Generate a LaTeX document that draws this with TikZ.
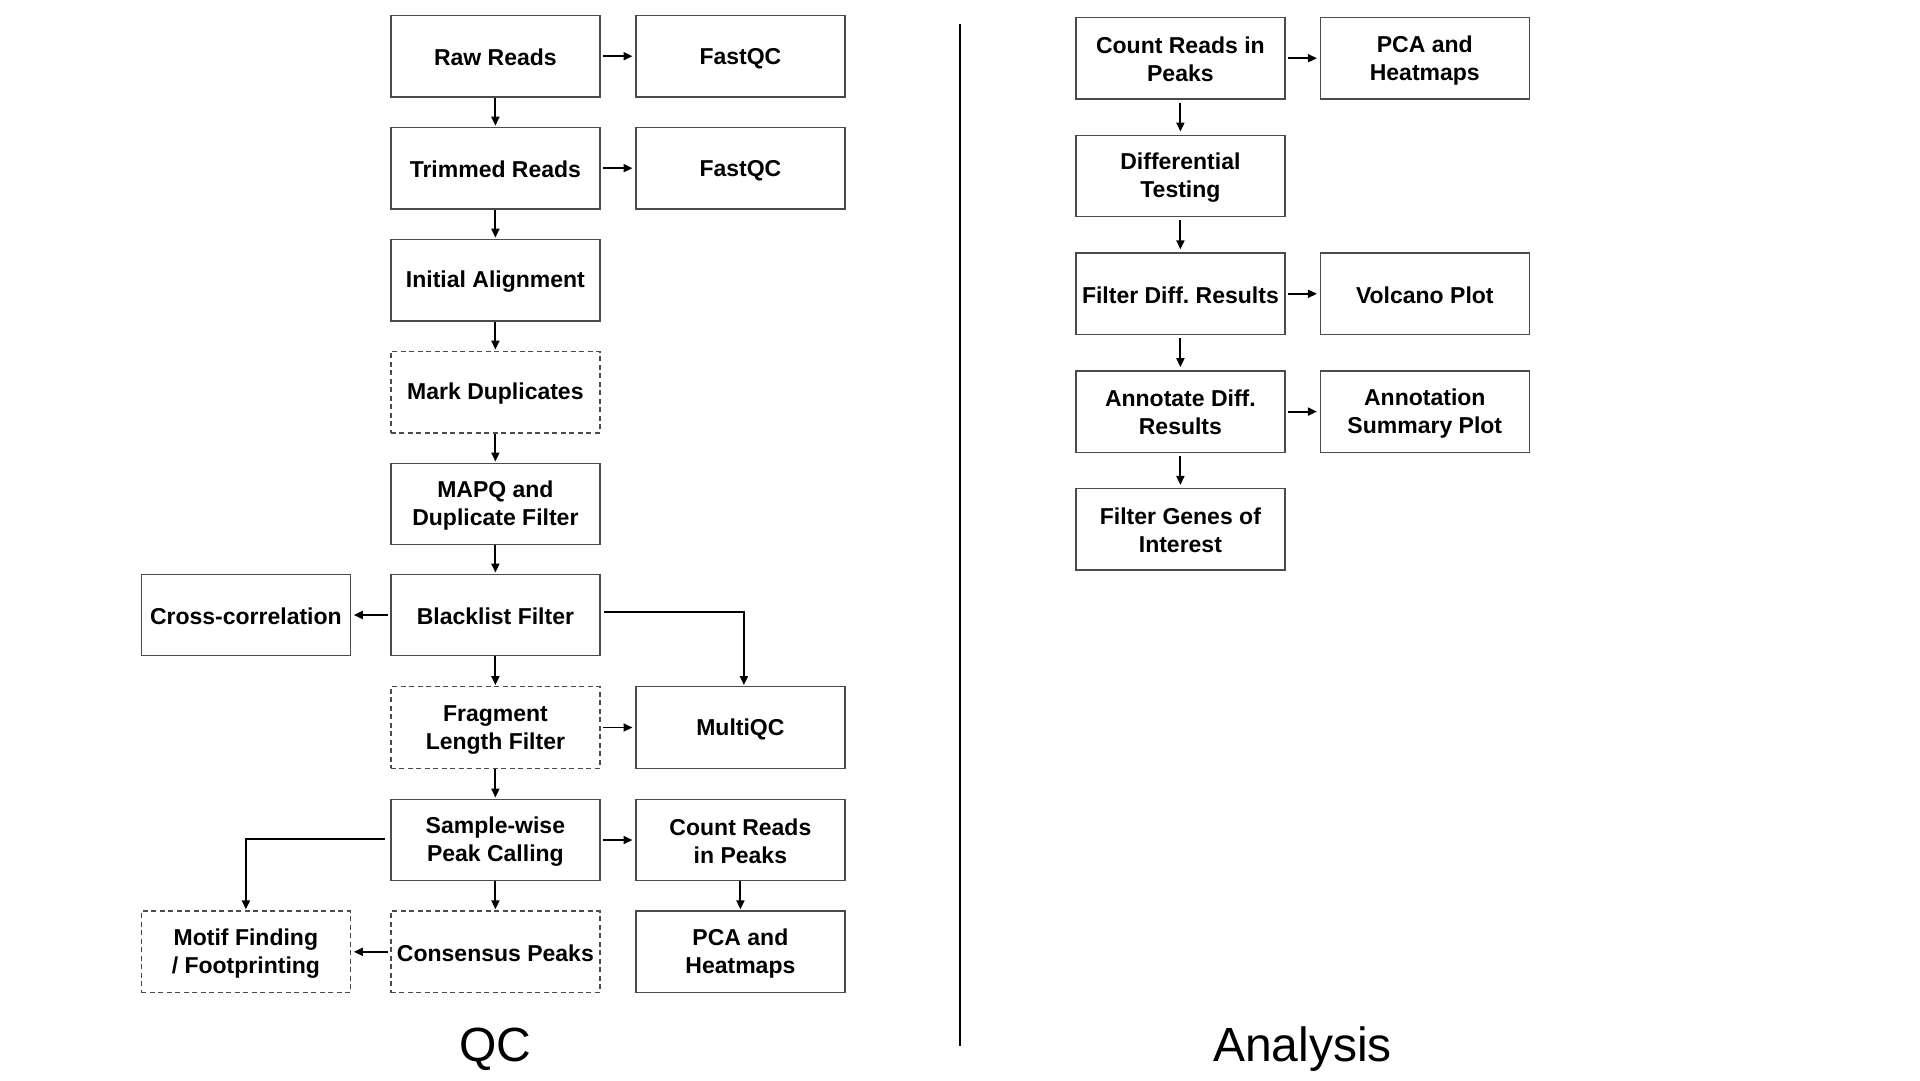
\documentclass[tikz,border=0pt]{standalone}
\usepackage{fontspec}
\setmainfont{Liberation Sans}
\usetikzlibrary{arrows.meta}
\newcommand{\ks}{\rule[-2pt]{0pt}{22.6pt}}
\begin{document}
\frenchspacing
\begin{tikzpicture}[x=1pt,y=-1pt,
  box/.style={draw={rgb,255:red,75;green,75;blue,75},line width=1.4pt,rectangle,
    minimum width=209pt,minimum height=81.5pt,inner sep=0pt,align=center,
    font=\fontsize{23}{28}\selectfont\bfseries\frenchspacing},
  dbox/.style={box,dash pattern=on 5pt off 3.5pt},
  arr/.style={-{Triangle[length=9pt,width=8pt]},line width=1.9pt,black},
  harr/.style={arr,shorten <=2.7pt,shorten >=2.7pt},
  varr/.style={arr,shorten <=0pt,shorten >=1pt},
  rvarr/.style={arr,shorten <=3pt,shorten >=3pt},
  title/.style={font=\fontsize{48}{56}\selectfont,anchor=base,inner sep=0pt}]
\useasboundingbox[fill=white] (0,0) rectangle (1920,1080);
% ---------- QC ----------
\node[box]  (raw)   at (495.4,56.2)   {\ks Raw Reads};
\node[box]  (fq1)   at (740.4,56.2)   {\ks FastQC};
\node[box]  (trim)  at (495.4,168.15) {\ks Trimmed Reads};
\node[box]  (fq2)   at (740.4,168.15) {\ks FastQC};
\node[box]  (init)  at (495.4,280.1)  {\ks Initial Alignment};
\node[dbox] (mark)  at (495.4,392.05) {\ks Mark Duplicates};
\node[box]  (mapq)  at (495.4,504.0)  {\ks MAPQ and\\\ks Duplicate Filter};
\node[box]  (black) at (495.4,615.0)  {\ks Blacklist Filter};
\node[box]  (cross) at (245.9,615.0)  {\ks Cross-correlation};
\node[dbox] (frag)  at (495.4,727.5)  {\ks Fragment\\\ks Length Filter};
\node[box]  (mqc)   at (740.4,727.5)  {\ks MultiQC};
\node[box]  (peak)  at (495.4,840.0)  {\ks Sample-wise\\\ks Peak Calling};
\node[box]  (count) at (740.4,840.0)  {\ks Count Reads\\\ks in Peaks};
\node[dbox] (cons)  at (495.4,951.8)  {\ks Consensus Peaks};
\node[dbox] (motif) at (245.9,951.8)  {\ks Motif Finding\\\ks / Footprinting};
\node[box]  (pca)   at (740.4,951.8)  {\ks PCA and\\\ks Heatmaps};
\draw[harr] (raw) -- (fq1);
\draw[harr] (trim) -- (fq2);
\draw[varr] (raw) -- (trim);
\draw[varr] (trim) -- (init);
\draw[varr] (init) -- (mark);
\draw[varr] (mark) -- (mapq);
\draw[varr] (mapq) -- (black);
\draw[harr] (black) -- (cross);
\draw[arr,shorten >=1pt] ([xshift=3pt,yshift=3.3pt]black.east) -| ([xshift=3.5pt]mqc.north);
\draw[varr] (black) -- (frag);
\draw[harr] (frag) -- (mqc);
\draw[varr] (frag) -- (peak);
\draw[harr] (peak) -- (count);
\draw[arr,shorten >=1pt] ([xshift=-5pt,yshift=1pt]peak.west) -| (motif.north);
\draw[varr] (peak) -- (cons);
\draw[varr] (count) -- (pca);
\draw[harr] (cons) -- (motif);
% ---------- Analysis ----------
\node[box] (c1) at (1180.4,58.2)  {\ks Count Reads in\\\ks Peaks};
\node[box] (c2) at (1424.8,58.2)  {\ks PCA and\\\ks Heatmaps};
\node[box] (d1) at (1180.4,176.0) {\ks Differential\\\ks Testing};
\node[box] (f1) at (1180.4,293.8) {\ks Filter Diff.\ Results};
\node[box] (f2) at (1424.8,293.8) {\ks Volcano Plot};
\node[box] (a1) at (1180.4,411.6) {\ks Annotate Diff.\\\ks Results};
\node[box] (a2) at (1424.8,411.6) {\ks Annotation\\\ks Summary Plot};
\node[box] (g1) at (1180.4,529.4) {\ks Filter Genes of\\\ks Interest};
\draw[harr] (c1) -- (c2);
\draw[rvarr] (c1) -- (d1);
\draw[rvarr] (d1) -- (f1);
\draw[harr] (f1) -- (f2);
\draw[rvarr] (f1) -- (a1);
\draw[harr] (a1) -- (a2);
\draw[rvarr] (a1) -- (g1);
% ---------- divider and titles ----------
\coordinate (dtop) at (960.3,24.3);
\coordinate (dbot) at (960.3,1045.7);
\draw[line width=2pt] (dtop) -- (dbot);
\node[title] (qc) at (495.4,1061.7) {QC};
\node[title] (an) at (1302.6,1061.7) {Analysis};
\end{tikzpicture}
\end{document}
